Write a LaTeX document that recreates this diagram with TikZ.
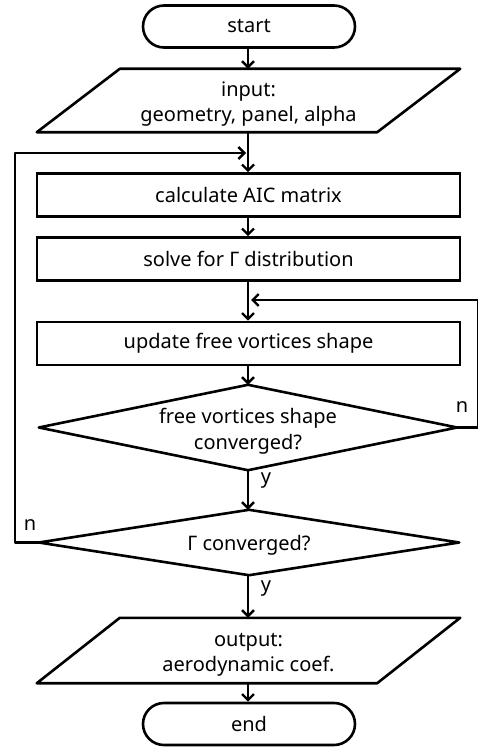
\documentclass[tikz,border=0pt]{standalone}
\usepackage{fontspec}
\setmainfont{Noto Sans}
\usetikzlibrary{arrows.meta,calc}
\newcommand{\strutup}{\rule{0pt}{22pt}}
\tikzset{
  line/.style={line width=2.6pt, line cap=round, line join=round},
  arr/.style={line, -{Straight Barb[length=6pt,width=12pt,line width=2.4pt]}},
  box/.style={draw, line width=2.6pt, rectangle, minimum width=423pt, minimum height=43pt, inner sep=0pt, font=\fontsize{20}{24}\selectfont},
  term/.style={draw, line width=2.6pt, rectangle, rounded corners=21pt, minimum width=212pt, minimum height=42pt, inner sep=0pt, font=\fontsize{20}{24}\selectfont},
  io/.style={rectangle, minimum width=340pt, inner sep=0pt, align=center, font=\fontsize{20}{25}\selectfont},
  dec/.style={rectangle, inner sep=0pt, align=center, font=\fontsize{20}{26}\selectfont},
  lbl/.style={font=\fontsize{20}{24}\selectfont, inner sep=0pt}
}
\begin{document}
\begin{tikzpicture}[x=1pt,y=-1pt]
\useasboundingbox (0,0) rectangle (477,749);
\node[term] (start) at (249,26.5) {start};
\node[io, minimum height=63pt] (inp) at (248.5,100.5) {\strutup input:\\geometry, panel, alpha};
\draw[line] ([xshift=41.5pt]inp.north west) -- ([xshift=41.5pt]inp.north east) -- ([xshift=-41.5pt]inp.south east) -- ([xshift=-41.5pt]inp.south west) -- cycle;
\node[box] (calc) at (248.5,195) {calculate AIC matrix};
\node[box] (solve) at (248.5,259) {solve for Γ distribution};
\node[box] (upd) at (248.5,343.5) {update free vortices shape};
\node[dec, minimum width=418pt, minimum height=85pt] (d1) at (248,427.5) {\strutup free vortices shape\\converged?};
\draw[line] (d1.north) -- (d1.east) -- (d1.south) -- (d1.west) -- cycle;
\node[dec, minimum width=420pt, minimum height=65pt] (d2) at (249,542.5) {\rule{0pt}{21pt}Γ converged?};
\draw[line] (d2.north) -- (d2.east) -- (d2.south) -- (d2.west) -- cycle;
\node[io, minimum height=65pt] (out) at (248.5,650.5) {\strutup output:\\aerodynamic coef.};
\draw[line] ([xshift=41.5pt]out.north west) -- ([xshift=41.5pt]out.north east) -- ([xshift=-41.5pt]out.south east) -- ([xshift=-41.5pt]out.south west) -- cycle;
\node[term] (end) at (249,724) {end};

\coordinate (j1) at (246,153);
\coordinate (j2) at (251,300);
\coordinate (lx) at (15,0);
\coordinate (rx) at (478.5,0);

\draw[arr] (start.south -| 248,0) -- (inp.north -| 248,0);
\draw[arr] (inp.south -| 248,0) -- (calc.north -| 248,0);
\draw[arr] (calc.south -| 248,0) -- (solve.north -| 248,0);
\draw[arr] (solve.south -| 248,0) -- (upd.north -| 248,0);
\draw[arr] (upd.south -| 248,0) -- (d1.north);
\draw[arr] (d1.south) -- (d2.north -| 248,0);
\draw[arr] (d2.south -| 248,0) -- (out.north -| 248,0);
\draw[arr] (out.south -| 248,0) -- (end.north -| 248,0);

\draw[arr] (d2.west) -- (d2.west -| lx) -- (lx |- j1) -- (j1);
\draw[arr] (d1.east) -- (d1.east -| rx) -- (rx |- j2) -- (j2);

\node[lbl] (n1) at (462,407) {n};
\node[lbl] (y1) at (266,481) {y};
\node[lbl] (n2) at (30,525) {n};
\node[lbl] (y2) at (266,589) {y};
\end{tikzpicture}
\end{document}
